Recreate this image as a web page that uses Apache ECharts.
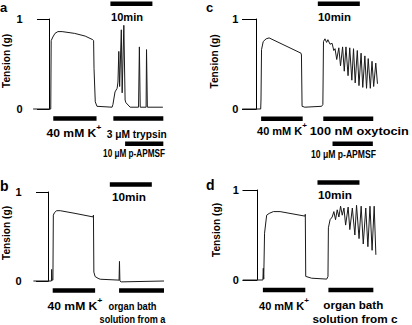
<!DOCTYPE html>
<html>
<head>
<meta charset="utf-8">
<script src="https://cdn.jsdelivr.net/npm/echarts@6/dist/echarts.min.js"></script>
<style>
  html, body { margin: 0; padding: 0; background: #fff; }
  #chart { width: 412px; height: 325px; }
</style>
</head>
<body>
<div id="chart"></div>
<script>
// time in min (0 = tension scale), tension in g
var aTime = [-3.9, 0.3, 0.4, 0.8, 1.3, 2.0, 3.0, 6.0, 8.5, 10.3, 10.5, 10.6, 10.9, 11.3, 14.9, 15.1, 15.6, 16.1, 16.3, 16.5, 16.7, 17.1, 17.3, 17.7, 18.0, 18.2, 19.2, 21.2, 21.4, 21.6, 23.0, 23.1, 23.3, 27.0];
var aTension = [0, 0, 0.76, 0.80, 0.84, 0.86, 0.86, 0.84, 0.81, 0.77, 0.76, 0.45, 0.08, 0.03, 0.02, 0.05, 0.19, 0.23, 0.30, 0.64, 0.25, 0.88, 0.18, 0.93, 0.10, 0.07, 0.02, 0.02, 0.69, 0.02, 0.02, 0.66, 0.02, 0.02];

var bTime = [-3.6, 0.7, 0.75, 0.85, 1.05, 1.15, 1.45, 1.95, 2.8, 6.3, 10.6, 10.7, 10.8, 11.1, 11.8, 12.3, 16.8, 16.9, 17.0, 17.3, 27.5];
var bTension = [0, 0, 0.13, 0.01, 0.01, 0.74, 0.77, 0.79, 0.79, 0.76, 0.72, 0.74, 0.10, 0.05, 0.03, 0.02, 0.01, 0.22, 0.0, -0.01, 0.0];

var cTime = [-3.4, 1.0, 1.07, 1.2, 1.6, 2.3, 3.0, 10.6, 10.7, 10.85, 11.5, 15.5, 15.8, 15.95, 16.3, 16.7, 17.0, 17.5, 18.0, 18.4, 18.7, 19.1, 19.6, 20.0, 20.5, 20.9, 21.3, 21.8, 22.2, 22.7, 23.1, 23.5, 24.0, 24.4, 24.9, 25.3, 25.8, 26.2, 26.6, 27.1, 27.5, 27.9, 28.4, 28.8];
var cTension = [0, 0, 0.10, 0.66, 0.75, 0.78, 0.79, 0.62, 0.60, 0.03, 0.02, 0.03, 0.05, 0.75, 0.78, 0.74, 0.77, 0.72, 0.73, 0.65, 0.67, 0.55, 0.68, 0.48, 0.69, 0.42, 0.69, 0.37, 0.68, 0.32, 0.67, 0.29, 0.65, 0.26, 0.62, 0.24, 0.59, 0.23, 0.56, 0.23, 0.53, 0.25, 0.51, 0.28];

var dTime = [-3.4, 1.4, 1.5, 1.6, 1.75, 1.8, 2.3, 2.9, 3.9, 5.5, 11.4, 11.5, 11.6, 13.0, 16.6, 16.9, 17.0, 17.4, 17.9, 18.3, 18.7, 19.1, 19.5, 19.9, 20.3, 20.7, 21.1, 21.7, 22.1, 22.7, 23.3, 23.7, 24.3, 24.8, 25.3, 25.9, 26.4, 26.9, 27.4, 27.9, 28.3];
var dTension = [0, 0, 0.13, 0.01, 0.01, 0.52, 0.72, 0.74, 0.76, 0.76, 0.71, 0.73, 0.04, 0.02, 0.01, 0.04, 0.58, 0.67, 0.70, 0.76, 0.67, 0.78, 0.70, 0.82, 0.72, 0.80, 0.61, 0.81, 0.56, 0.80, 0.50, 0.83, 0.46, 0.82, 0.40, 0.80, 0.37, 0.82, 0.33, 0.82, 0.28];

// treatment periods [start, end] in min
var aK = [0.9, 11.2], aTrypsin = [15.2, 27.1], aApmsf = [18.0, 27.1];
var bK = [1.0, 11.1], bBath = [16.8, 27.5];
var cK = [1.1, 11.0], cOxytocin = [15.9, 27.8], cApmsf = [18.1, 27.7];
var dK = [1.4, 11.5], dBath = [17.0, 27.7];
// 10 min time scale bars
var aScale = [14.5, 24.5], bScale = [14.6, 24.6], cScale = [14.6, 24.6], dScale = [14.4, 24.4];

var FONT = "Liberation Sans, Arial, sans-serif";

var panels = [
  { time: aTime, tension: aTension, left: 32.7, top: 19, width: 132.3, height: 90, min: -4, max: 27.5,
    tick: 12.5, margin: 10, title: [6.7, 61],
    bars: [[aK, -0.105], [aTrypsin, -0.105], [aApmsf, -0.385]], scale: [aScale, 1.17] },
  { time: bTime, tension: bTension, left: 31.7, top: 192, width: 134.4, height: 89, min: -4, max: 28,
    tick: 12.5, margin: 10, title: [6.7, 233],
    bars: [[bK, -0.107], [bBath, -0.107]], scale: [bScale, 1.084] },
  { time: cTime, tension: cTension, left: 241.8, top: 19, width: 136.5, height: 90, min: -3.5, max: 29,
    tick: 14.5, margin: 3.5, title: [214, 61.5],
    bars: [[cK, -0.108], [cOxytocin, -0.108], [cApmsf, -0.385]], scale: [cScale, 1.17] },
  { time: dTime, tension: dTension, left: 242.3, top: 190, width: 136.5, height: 90, min: -3.5, max: 29,
    tick: 14.5, margin: 3.5, title: [216, 230],
    bars: [[dK, -0.111], [dBath, -0.111]], scale: [dScale, 1.083] }
];

var grids = [], xAxes = [], yAxes = [], series = [];

panels.forEach(function (p, i) {
  grids.push({ left: p.left, top: p.top, width: p.width, height: p.height, outerBoundsMode: "none" });
  xAxes.push({ gridIndex: i, type: "value", min: p.min, max: p.max, show: false, axisLine: { onZero: false } });
  yAxes.push({
    gridIndex: i, type: "value", min: 0, max: 1, interval: 1,
    axisLine: { show: true, onZero: true, lineStyle: { color: "#000", width: 1 } },
    axisTick: { show: true, length: p.tick, lineStyle: { color: "#000", width: 1 } },
    axisLabel: { margin: p.margin, fontSize: 11, fontWeight: "bold", color: "#000", fontFamily: FONT },
    splitLine: { show: false }
  });
  // tension trace
  series.push({
    type: "line", xAxisIndex: i, yAxisIndex: i, symbol: "none", clip: false, silent: true,
    lineStyle: { color: "#1a1a1a", width: 1 },
    data: p.time.map(function (t, k) { return [t, p.tension[k]]; })
  });
  // drug application bars + time scale bar
  p.bars.concat([p.scale]).forEach(function (b) {
    series.push({
      type: "line", xAxisIndex: i, yAxisIndex: i, symbol: "none", clip: false, silent: true,
      lineStyle: { color: "#000", width: 4.5, cap: "butt" },
      data: [[b[0][0], b[1]], [b[0][1], b[1]]]
    });
  });
});

// squeeze / stretch text so its width matches the figure
var ctx = document.createElement("canvas").getContext("2d");
function measure(s, size) {
  ctx.font = "bold " + size + "px " + FONT;
  return ctx.measureText(s).width;
}
function txt(s, x, y, w, size, align) {
  size = size || 11;
  var sx = w ? w / measure(s, size) : 1;
  return {
    type: "text", x: x, y: y, scaleX: sx, silent: true,
    style: { text: s, fill: "#000", fontSize: size, fontWeight: "bold", fontFamily: FONT,
             align: align || "center", verticalAlign: "middle" }
  };
}
function kTxt(x, y, w) {
  var nat = measure("40 mM K", 11) + measure("+", 8);
  return {
    type: "text", x: x, y: y, scaleX: w / nat, silent: true,
    style: {
      text: "{n|40 mM K}{s|+}", fill: "#000", fontFamily: FONT, fontWeight: "bold",
      align: "center", verticalAlign: "middle",
      rich: {
        n: { fontSize: 11, fontWeight: "bold", fontFamily: FONT, lineHeight: 20 },
        s: { fontSize: 8, fontWeight: "bold", fontFamily: FONT, verticalAlign: "top", lineHeight: 8 }
      }
    }
  };
}
function title(x, y) {
  return {
    type: "text", x: x, y: y, rotation: Math.PI / 2, silent: true,
    style: { text: "Tension (g)", fill: "#000", fontSize: 10.2, fontWeight: "bold", fontFamily: FONT,
             align: "center", verticalAlign: "middle" }
  };
}

var graphics = [
  txt("a", 0, 7.3, null, 13, "left"), txt("b", 0, 186, null, 14, "left"),
  txt("c", 206, 7.3, null, 13, "left"), txt("d", 206, 185, null, 14, "left"),
  txt("10min", 127, 16.7, 32), txt("10min", 129, 196.7, 34),
  txt("10min", 334.5, 16.7, 33), txt("10min", 335, 195, 34),
  kTxt(74, 133.5, 55), txt("3 μM trypsin", 136.7, 133.5, 60), txt("10 μM p-APMSF", 134, 154, 62, 10),
  kTxt(75, 306.2, 55), txt("organ bath", 132.5, 306, 48, 10), txt("solution from a", 132.5, 319.3, 66, 10),
  kTxt(282, 131, 50), txt("100 nM oxytocin", 359.3, 131, 99, 11.5), txt("10 μM p-APMSF", 343.5, 154.3, 65, 10),
  kTxt(284, 306.2, 50), txt("organ bath", 353.3, 305, 60, 11), txt("solution from c", 355, 319, 85, 10.5)
].concat(panels.map(function (p) { return title(p.title[0], p.title[1]); }));

var chart = echarts.init(document.getElementById("chart"), null, { renderer: "svg" });
chart.setOption({
  animation: false,
  backgroundColor: "#fff",
  grid: grids,
  xAxis: xAxes,
  yAxis: yAxes,
  series: series,
  graphic: graphics
});
</script>
</body>
</html>
